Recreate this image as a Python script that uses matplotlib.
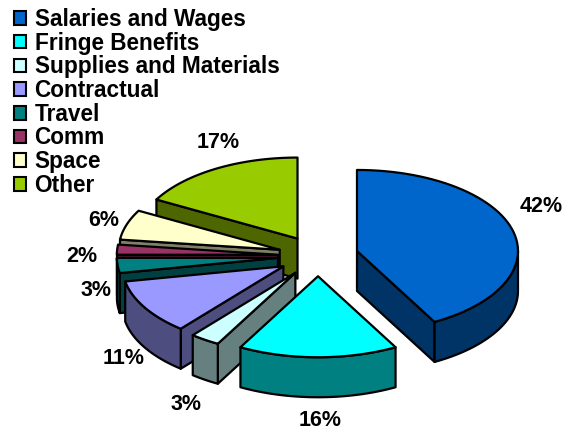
import numpy as np
import matplotlib
matplotlib.use('Agg')
import matplotlib.pyplot as plt
from matplotlib.patches import Polygon, Patch

plt.rcParams['font.family'] = ['Liberation Sans', 'DejaVu Sans']

categories = ['Salaries and Wages', 'Fringe Benefits', 'Supplies and Materials', 'Contractual',
              'Travel', 'Comm', 'Space', 'Other']
values = [42, 16, 3, 11, 3, 2, 6, 17]
top_colors = ['#0066CC', '#00FFFF', '#CCFFFF', '#9999FF', '#008080', '#993366', '#FFFFCC', '#99CC00']
side_colors = ['#003366', '#008080', '#668080', '#4D4D80', '#004040', '#4D1A33', '#808066', '#4D6600']

# pie layout in pixels
cx, cy = 318, 256
rx, ry = 161, 81
depth = 40
explode = 0.25
label_xy = [(541, 206), (320, 420), (186, 405), (124, 359), (96, 291), (82, 256), (104, 220), (218, 143)]

fig = plt.figure(figsize=(5.67, 4.3), dpi=100, facecolor='w')
ax = fig.add_axes([0, 0, 1, 1])
ax.set_xlim(0, 567)
ax.set_ylim(430, 0)
ax.axis('off')


def pt(a, ox, oy):
    # angle in degrees clockwise from 12 o'clock
    r = np.radians(a)
    return ox + rx * np.sin(r), oy - ry * np.cos(r)


def poly(xy, color, z):
    ax.add_patch(Polygon(xy, closed=True, fc=color, ec='k', lw=1.6, joinstyle='round', zorder=z))


edges = np.cumsum([0] + values) * 3.6
z = 1
# back to front: Other first, then round to Contractual etc, Salaries last
for i in list(range(len(values) - 1, -1, -1)):
    t0, t1 = edges[i], edges[i + 1]
    mid = (t0 + t1) / 2
    mx, my = pt(mid, 0, 0)
    ox, oy = cx + explode * mx, cy + explode * my

    # flat cut faces
    if np.sin(np.radians(t0)) < -1e-6:
        x, y = pt(t0, ox, oy)
        poly([(ox, oy), (x, y), (x, y + depth), (ox, oy + depth)], side_colors[i], z)
        z += 1
    if np.sin(np.radians(t1)) > 1e-6:
        x, y = pt(t1, ox, oy)
        poly([(ox, oy), (x, y), (x, y + depth), (ox, oy + depth)], side_colors[i], z)
        z += 1

    # outer wall, only the front half shows
    a0, a1 = max(t0, 90), min(t1, 270)
    if a1 > a0:
        aa = np.linspace(a0, a1, 40)
        xs, ys = pt(aa, ox, oy)
        wall = list(zip(xs, ys)) + list(zip(xs[::-1], ys[::-1] + depth))
        poly(wall, side_colors[i], z)
        z += 1

    # top
    aa = np.linspace(t0, t1, 60)
    xs, ys = pt(aa, ox, oy)
    poly([(ox, oy)] + list(zip(xs, ys)), top_colors[i], z)
    z += 1

for v, (lx, ly) in zip(values, label_xy):
    ax.text(lx, ly, '%d%%' % v, ha='center', va='center', fontsize=15.5, fontweight='bold', color='k', zorder=50)

handles = [Patch(fc=c, ec='k', lw=1.5) for c in top_colors]
leg = ax.legend(handles, categories, loc='upper left', bbox_to_anchor=(14 / 567, 1 - 8 / 430), frameon=False,
                prop={'size': 16.3, 'weight': 'bold'}, handlelength=0.55, handleheight=0.55,
                handletextpad=0.36, labelspacing=0.03, borderpad=0.0, borderaxespad=0.0)
leg.set_zorder(60)

fig.savefig('out.png', dpi=100, facecolor='w')
